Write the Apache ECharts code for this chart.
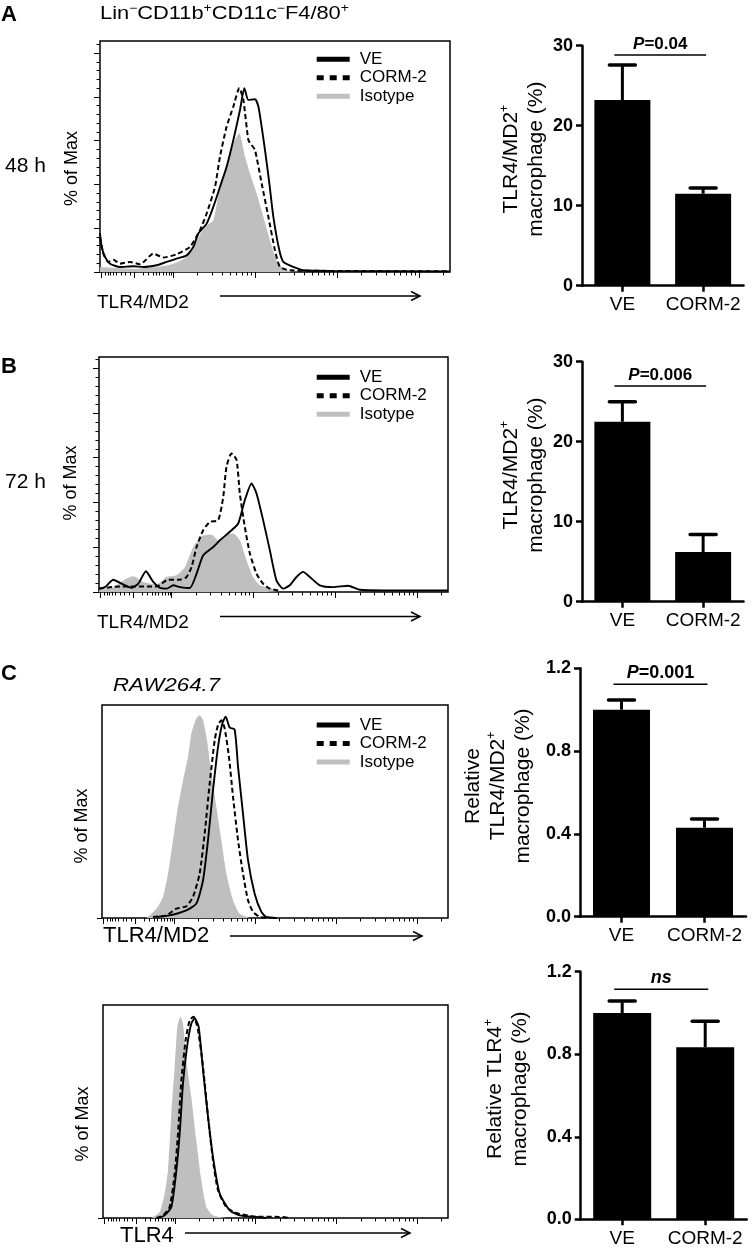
<!DOCTYPE html>
<html><head><meta charset="utf-8">
<script src="https://cdn.jsdelivr.net/npm/echarts@6/dist/echarts.min.js"></script>
<style>html,body{margin:0;padding:0;background:#fff}#c{width:756px;height:1251px}</style>
</head><body><div id="c"></div>
<script>
// ---------- DATA ----------
// Histogram curves: [x position in log-decade units, % of Max]
const A_VE = [[1.110,17.6],[1.130,11.5],[1.171,6.9],[1.232,3.8],[1.354,2.3],[1.517,2.6],[1.639,2.3],[1.801,3.1],[1.923,4.6],[2.045,6.1],[2.168,7.6],[2.249,11.5],[2.310,17.6],[2.411,22.1],[2.493,29.8],[2.574,38.9],[2.655,48.1],[2.737,60.3],[2.818,74.0],[2.871,84.0],[2.920,78.6],[3.001,78.9],[3.042,75.6],[3.082,66.4],[3.123,55.7],[3.176,40.5],[3.225,25.2],[3.298,9.9],[3.347,4.6],[3.469,2.3],[3.591,0.8],[3.957,0.5],[5.380,0.3]];
const A_CORM = [[1.110,16.0],[1.151,8.4],[1.212,4.6],[1.273,5.6],[1.354,3.8],[1.476,4.6],[1.598,3.5],[1.761,8.4],[1.883,6.6],[2.045,8.1],[2.208,11.5],[2.330,19.1],[2.411,26.7],[2.513,38.9],[2.574,52.7],[2.655,66.4],[2.737,75.6],[2.810,84.0],[2.859,78.6],[2.920,60.3],[2.960,58.0],[3.001,55.7],[3.082,40.5],[3.164,25.2],[3.245,9.9],[3.306,2.3],[3.428,0.8],[3.957,0.5],[5.380,0.3]];
const A_ISO = [[1.110,2.3],[1.517,1.5],[1.801,2.3],[2.004,3.8],[2.168,6.9],[2.290,14.5],[2.391,20.6],[2.493,23.7],[2.574,38.9],[2.676,51.1],[2.757,60.3],[2.810,63.4],[2.879,52.7],[2.940,45.0],[3.021,35.9],[3.103,25.2],[3.184,14.5],[3.265,5.3],[3.347,1.5],[3.428,0.5],[3.550,0]];

const B_VE = [[1.110,1.5],[1.183,2.2],[1.285,5.5],[1.387,3.7],[1.509,1.9],[1.591,3.7],[1.684,9.3],[1.774,4.5],[1.856,1.8],[1.937,1.5],[2.019,3.0],[2.100,2.2],[2.222,1.8],[2.304,8.2],[2.385,16.4],[2.507,20.1],[2.589,23.1],[2.711,26.9],[2.813,30.6],[2.894,41.0],[2.976,48.5],[3.037,44.0],[3.118,32.1],[3.200,18.7],[3.281,5.2],[3.363,1.5],[3.444,3.0],[3.526,6.7],[3.607,9.0],[3.689,6.7],[3.811,3.0],[3.974,2.2],[4.157,2.8],[4.300,1.0],[4.585,0.7],[5.380,0.7]];
const B_CORM = [[1.110,1.5],[1.367,2.5],[1.815,2.5],[1.957,5.5],[2.100,5.5],[2.181,6.7],[2.243,11.2],[2.304,20.1],[2.385,27.6],[2.467,31.3],[2.568,32.1],[2.630,42.5],[2.670,56.0],[2.731,61.9],[2.793,59.0],[2.833,44.0],[2.894,29.1],[2.956,17.2],[3.037,8.2],[3.118,3.7],[3.200,1.5],[3.302,0.7]];
const B_ISO = [[1.110,0.7],[1.285,2.2],[1.448,6.0],[1.530,7.0],[1.652,4.5],[1.815,3.4],[1.937,6.7],[2.059,7.5],[2.161,11.2],[2.263,20.1],[2.365,24.9],[2.487,25.7],[2.568,23.1],[2.670,25.7],[2.752,26.1],[2.833,23.1],[2.915,14.2],[2.996,6.7],[3.078,3.0],[3.159,2.2],[3.322,0.4]];

const C1_VE = [[1.781,0.5],[1.945,1.3],[2.151,3.8],[2.274,7.1],[2.357,18.6],[2.418,38.3],[2.480,63.0],[2.542,84.4],[2.595,95.9],[2.636,99.2],[2.686,93.9],[2.747,92.9],[2.789,74.5],[2.850,51.5],[2.912,28.5],[2.994,12.0],[3.077,3.0],[3.138,0.5],[3.262,0]];
const C1_CORM = [[1.739,0.5],[1.904,1.3],[2.027,4.6],[2.151,5.8],[2.233,10.4],[2.315,21.9],[2.377,41.6],[2.439,66.3],[2.501,87.7],[2.542,95.1],[2.583,97.5],[2.624,93.4],[2.677,79.4],[2.727,59.7],[2.789,38.3],[2.850,21.9],[2.912,8.7],[2.974,3.0],[3.056,0.5],[3.138,0]];
const C1_ISO = [[1.657,0],[1.781,4.6],[1.863,10.4],[1.925,21.9],[1.986,38.3],[2.048,54.8],[2.110,67.9],[2.171,79.4],[2.213,91.0],[2.274,98.4],[2.315,100],[2.357,97.5],[2.406,87.7],[2.459,71.2],[2.521,54.8],[2.583,38.3],[2.645,21.9],[2.727,8.7],[2.809,2.1],[2.933,0]];

const C2_VE = [[1.791,0],[1.873,1.3],[1.956,5.4],[2.018,23.5],[2.059,41.6],[2.100,66.3],[2.150,84.4],[2.203,95.9],[2.245,98.4],[2.294,94.2],[2.348,72.9],[2.410,49.8],[2.471,30.1],[2.554,12.0],[2.678,3.8],[2.801,1.3],[3.008,0.5],[3.132,0]];
const C2_CORM = [[1.770,0],[1.853,1.3],[1.935,5.4],[1.997,21.9],[2.038,41.6],[2.080,67.9],[2.133,87.7],[2.183,97.5],[2.232,99.2],[2.286,92.6],[2.348,74.5],[2.410,49.8],[2.471,28.5],[2.533,13.7],[2.636,5.4],[2.760,2.5],[2.967,0.8],[3.338,0.5],[3.420,0]];
const C2_ISO = [[1.708,0],[1.811,3.0],[1.873,12.0],[1.914,23.5],[1.956,51.5],[1.997,74.5],[2.030,94.2],[2.067,99.2],[2.100,95.9],[2.141,77.8],[2.203,59.7],[2.265,38.3],[2.327,18.6],[2.389,5.4],[2.471,1.3],[2.636,0]];

// Histogram axis ticks (log-decade units / % of Max)
const histMajorX = [1.13,1.525,2,3,4,5];
const histMinorX = [1.171,1.211,1.240,1.272,1.313,1.374,1.415,1.476,1.634,1.695,1.756,1.797,1.838,1.879,1.920,1.952,1.981,2.301,2.477,2.602,2.699,2.778,2.845,2.903,2.954,3.301,3.477,3.602,3.699,3.778,3.845,3.903,3.954,4.301,4.477,4.602,4.699,4.778,4.845,4.903,4.954,5.301];
const histMajorY = [0,20,40,60,80,100];
const histMinorY = [4,8,12,16,24,28,32,36,44,48,52,56,64,68,72,76,84,88,92,96,104];

// Bar charts
const barCats = ['VE','CORM-2'];
const A_mean = [23.2, 11.5], A_err = [4.4, 0.7];
const B_mean = [22.5, 6.2],  B_err = [2.5, 2.2];
const C1_mean = [1.0, 0.43], C1_err = [0.047, 0.042];
const C2_mean = [1.0, 0.834], C2_err = [0.058, 0.126];
const sigLabels = ['P=0.04','P=0.006','P=0.001','ns'];
const sigLevels = [28.84, 26.96, 1.1227, 1.1148];
const legendNames = ['VE','CORM-2','Isotype'];

// ---------- LAYOUT / STYLE ----------
const FONT = 'Liberation Sans';
const GREY = '#bfbfbf';
const histGrids = [
  {left:100, top:41, width:350, height:231},
  {left:99, top:357, width:349, height:235},
  {left:102, top:705, width:346, height:213},
  {left:103, top:1005, width:345, height:213}
];
const histYMax = [105.5, 105, 105, 105];
const histSets = [[A_ISO,A_CORM,A_VE],[B_ISO,B_CORM,B_VE],[C1_ISO,C1_CORM,C1_VE],[C2_ISO,C2_CORM,C2_VE]];
const histNameGap = [19,19,11,11];
const histNamePadR = [24,17,29,25];
const histYTicks = [true,true,false,false];
const legendTops = [50.8, 368.8, 716.5];

const barGrids = [
  {left:582, top:45.7, width:161.5, height:240},
  {left:582, top:361.7, width:161.5, height:240},
  {left:580, top:668.3, width:166, height:248.4},
  {left:580.7, top:971.7, width:166, height:247.6}
];
const barMeans = [A_mean,B_mean,C1_mean,C2_mean];
const barErrs = [A_err,B_err,C1_err,C2_err];
const barMax = [30,30,1.2,1.2], barInterval=[10,10,0.4,0.4], barDec=[0,0,1,1];
const barWidths = [56,56,57,58];
const barNameGap = [31,31,44.5,48];
const barNames = [
  '{t|TLR4/MD2}{s|+}\n{t|macrophage (%)}',
  '{t|TLR4/MD2}{s|+}\n{t|macrophage (%)}',
  '{t|Relative}\n{t|TLR4/MD2}{s|+}\n{t|macrophage (%)}',
  '{t|Relative TLR4}{s|+}\n{t|macrophage (%)}'
];
const sigFont = [17,17,18,18];

const grid = [], xAxis = [], yAxis = [], series = [];
const tickStyle = {color:'#000', width:1};

histGrids.forEach((g, i) => {
  grid.push(Object.assign({show:true, borderColor:'#000', borderWidth:1.5, backgroundColor:'transparent', outerBoundsMode:'none', containLabel:false}, g));
  const baseX = {type:'value', gridIndex:i, min:1.11, max:5.38, position:'bottom',
    axisLine:{show:false}, splitLine:{show:false}, axisLabel:{show:false}};
  xAxis.push(Object.assign({}, baseX, {axisTick:{show:true, inside:false, length:6, lineStyle:tickStyle, customValues:histMajorX}}));
  xAxis.push(Object.assign({}, baseX, {axisTick:{show:true, inside:false, length:3.5, lineStyle:tickStyle, customValues:histMinorX}}));
  const baseY = {type:'value', gridIndex:i, min:0, max:histYMax[i], position:'left',
    axisLine:{show:false}, splitLine:{show:false}, axisLabel:{show:false}};
  yAxis.push(Object.assign({}, baseY, {
    name:'% of Max', nameLocation:'middle', nameGap:histNameGap[i],
    nameTextStyle:{fontSize:18, color:'#000', fontFamily:FONT, padding:[0,histNamePadR[i],0,0]},
    axisTick:{show:true, length: histYTicks[i] ? 6 : 5, lineStyle:tickStyle, customValues: histYTicks[i] ? histMajorY : [0]}}));
  yAxis.push(Object.assign({}, baseY, {axisTick:{show:histYTicks[i], length:3.5, lineStyle:tickStyle, customValues:histMinorY}}));
  const [iso, corm, ve] = histSets[i];
  series.push({type:'line', name:'Isotype', xAxisIndex:2*i, yAxisIndex:2*i, data:iso, showSymbol:false, symbol:'none', smooth:0.2,
    lineStyle:{width:0, color:GREY}, itemStyle:{color:GREY}, areaStyle:{color:GREY, opacity:1}, z:1, silent:true});
  series.push({type:'line', name:'CORM-2', xAxisIndex:2*i, yAxisIndex:2*i, data:corm, showSymbol:false, symbol:'none', smooth:0.2,
    lineStyle:{width:2, color:'#000', type:[5,3]}, itemStyle:{color:'#000'}, z:3, silent:true});
  series.push({type:'line', name:'VE', xAxisIndex:2*i, yAxisIndex:2*i, data:ve, showSymbol:false, symbol:'none', smooth:0.2,
    lineStyle:{width:1.9, color:'#000'}, itemStyle:{color:'#000'}, z:4, silent:true});
});

barGrids.forEach((g, b) => {
  const gi = 4 + b, ai = 8 + b;
  grid.push(Object.assign({show:false, outerBoundsMode:'none', containLabel:false}, g));
  xAxis.push({type:'category', gridIndex:gi, data:barCats,
    axisLine:{show:true, lineStyle:{color:'#000', width:2.5}},
    axisTick:{show:true, alignWithLabel:true, interval:0, length:6, lineStyle:{color:'#000', width:2.5}},
    axisLabel:{interval:0, hideOverlap:false, fontSize:19, color:'#000', margin:10, fontFamily:FONT}, splitLine:{show:false}});
  yAxis.push({type:'value', gridIndex:gi, min:0, max:barMax[b], interval:barInterval[b],
    axisLine:{show:true, lineStyle:{color:'#000', width:2.5}},
    axisTick:{show:true, length:6, lineStyle:{color:'#000', width:2.5}},
    axisLabel:{fontSize:18, fontWeight:'bold', color:'#000', margin:9, fontFamily:FONT,
      formatter: v => v.toFixed(barDec[b])},
    splitLine:{show:false},
    name: barNames[b], nameLocation:'middle', nameGap:barNameGap[b],
    nameTextStyle:{fontSize:21, lineHeight:25, color:'#000', fontFamily:FONT, padding:[0,0,0,13],
      rich:{t:{fontSize:21, lineHeight:25, color:'#000', fontFamily:FONT},
            s:{fontSize:12, lineHeight:12, color:'#000', fontFamily:FONT, verticalAlign:'top'}}}});
  series.push({type:'bar', xAxisIndex:ai, yAxisIndex:ai, data:barMeans[b], barWidth:barWidths[b],
    itemStyle:{color:'#000'}, z:2, silent:true});
  series.push({type:'custom', xAxisIndex:ai, yAxisIndex:ai, z:3, silent:true,
    data: barCats.map((c, k) => [k, barMeans[b][k], barErrs[b][k]]),
    renderItem: (params, api) => {
      const base = api.coord([api.value(0), api.value(1)]);
      const top = api.coord([api.value(0), api.value(1) + api.value(2)]);
      return {type:'group', children:[
        {type:'line', shape:{x1:base[0], y1:base[1], x2:base[0], y2:top[1]}, style:{stroke:'#000', lineWidth:3}},
        {type:'line', shape:{x1:base[0]-13, y1:top[1], x2:base[0]+13, y2:top[1]}, style:{stroke:'#000', lineWidth:3.5, lineCap:'round'}}
      ]};
    }});
  const lab = sigLabels[b];
  const richText = lab.indexOf('P=') === 0 ? '{i|P}{b|' + lab.slice(1) + '}' : '{i|' + lab + '}';
  series.push({type:'custom', xAxisIndex:ai, yAxisIndex:ai, z:3, silent:true,
    data: [[0, sigLevels[b]]],
    renderItem: (params, api) => {
      const y = api.value(1);
      const p0 = api.coord([0, y]), p1 = api.coord([1, y]);
      const xa = p0[0] - 8, xb = p1[0] + 3;
      return {type:'group', children:[
        {type:'line', shape:{x1:xa, y1:p0[1], x2:xb, y2:p0[1]}, style:{stroke:'#000', lineWidth:1.5}},
        {type:'text', x:(xa + xb) / 2, y:p0[1] - 2, style:{text:richText, align:'center', verticalAlign:'bottom', fill:'#000',
          fontSize:sigFont[b], fontWeight:'bold', fontFamily:FONT,
          rich:{i:{fontSize:sigFont[b], fontWeight:'bold', fontStyle:'italic', fill:'#000', fontFamily:FONT},
                b:{fontSize:sigFont[b], fontWeight:'bold', fill:'#000', fontFamily:FONT}}}}
      ]};
    }});
});

const legend = legendTops.map(t => ({
  left:316.7, top:t, orient:'vertical', padding:0, itemGap:1.5, itemWidth:33, itemHeight:5, selectedMode:false,
  textStyle:{fontSize:17, color:'#000', fontFamily:FONT, lineHeight:17, padding:[0,0,0,5]},
  data:[
    {name:legendNames[0], icon:'rect', itemStyle:{color:'#000', borderWidth:0}},
    {name:legendNames[1], icon:'path://M0,0H7V5H0Z M13,0H20V5H13Z M26,0H33V5H26Z', itemStyle:{color:'#000', borderWidth:0}},
    {name:legendNames[2], icon:'rect', itemStyle:{color:GREY, borderWidth:0}}
  ]
}));

function T(x, y, text, o) {
  o = o || {};
  const st = {text:text, fontSize:o.fs || 18, fontFamily:FONT, fill:'#000', align:o.align || 'left', verticalAlign:'middle',
    fontWeight:o.fw || 'normal', fontStyle:o.fst || 'normal'};
  if (o.rich) st.rich = o.rich;
  return {type:'text', x:x, y:y, scaleX:o.sx || 1, z:100, style:st};
}
function arrow(x1, x2, y) {
  return [
    {type:'line', z:100, shape:{x1:x1, y1:y, x2:x2, y2:y}, style:{stroke:'#000', lineWidth:1.5}},
    {type:'polyline', z:100, shape:{points:[[x2-9, y-4.5],[x2, y],[x2-9, y+4.5]]}, style:{stroke:'#000', lineWidth:1.5, fill:null}}
  ];
}
const supRich = {n:{fontSize:19, lineHeight:22, fontFamily:FONT, fill:'#000'}, s:{fontSize:12, lineHeight:12, fontFamily:FONT, fill:'#000', verticalAlign:'top'}};
const graphic = [
  T(1, 14.7, 'A', {fs:22, fw:'bold'}),
  T(1, 366.7, 'B', {fs:22, fw:'bold'}),
  T(1, 673.5, 'C', {fs:22, fw:'bold'}),
  T(100, 14, '{n|Lin}{s|−}{n|CD11b}{s|+}{n|CD11c}{s|−}{n|F4/80}{s|+}', {rich:supRich, sx:1.15}),
  T(5, 166.7, '48 h', {fs:21}),
  T(5, 482.5, '72 h', {fs:21}),
  T(113, 686, 'RAW264.7', {fs:19, fst:'italic', sx:1.17}),
  T(97, 302.5, 'TLR4/MD2', {fs:19}),
  T(97, 622.5, 'TLR4/MD2', {fs:19}),
  T(103, 936, 'TLR4/MD2', {fs:22}),
  T(120, 1236, 'TLR4', {fs:22})
].concat(arrow(220, 420, 296), arrow(220, 420, 616.5), arrow(230, 422, 936), arrow(185, 410, 1233));

const chart = echarts.init(document.getElementById('c'), null, {renderer:'canvas'});
chart.setOption({
  animation:false,
  backgroundColor:'#fff',
  textStyle:{fontFamily:FONT},
  grid, xAxis, yAxis, series, legend, graphic
});
</script></body></html>
